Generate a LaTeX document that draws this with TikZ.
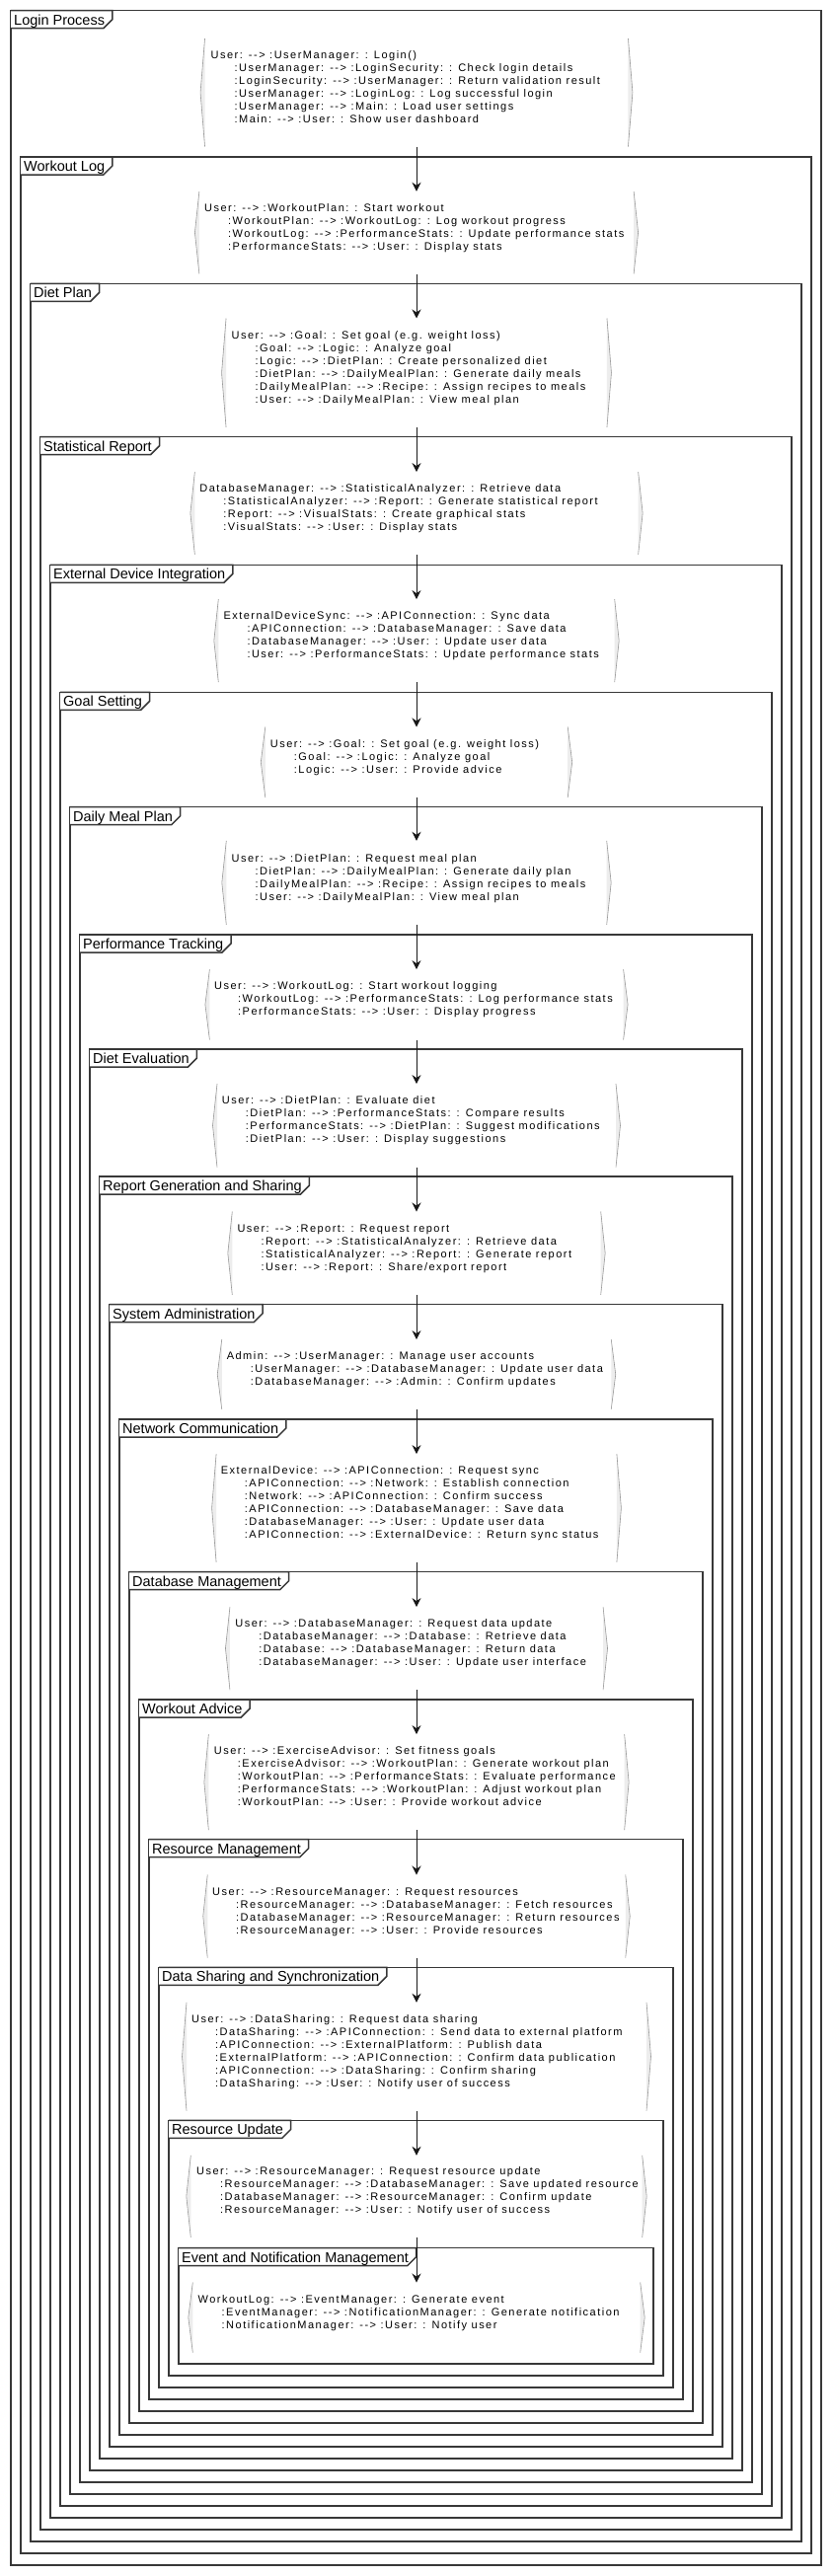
\documentclass[tikz,border=0pt]{standalone}
\usepackage{fontspec}
\setmainfont{Liberation Sans}
\newfontfamily\ttlfont[Ligatures=TeXOff]{Liberation Sans}
\newfontfamily\bodyfont[Ligatures=TeXOff,LetterSpace=13.5]{Liberation Sans}
\usetikzlibrary{arrows.meta,calc}
\definecolor{frmcol}{HTML}{383838}
\definecolor{brkcol}{HTML}{9A9A9A}
\definecolor{shdcol}{HTML}{EDEDED}
\definecolor{arrcol}{HTML}{181818}
\tikzset{
  frm/.style={draw=frmcol,line width=1.5pt},
  ttl/.style={inner sep=0pt,font={\fontsize{14.5}{17}\ttlfont},text=black},
  txt/.style={inner sep=0pt,align=left,font={\fontsize{11}{13}\bodyfont},text=black},
  blkbox/.style={inner sep=0pt,draw=none},
  brk/.style={draw=brkcol,line width=0.6pt},
  arr/.style={draw=arrcol,line width=1pt,-{Stealth[length=9pt,width=9pt,inset=3pt]}}
}
\newcommand\fst{\strut}
\newcommand\ind{\hspace*{24pt}\strut}
\newcommand\grp[3]{%
  \pgfmathsetmacro\gl{11+10*#1}%
  \pgfmathsetmacro\gr{832-10*#1}%
  \pgfmathsetmacro\gb{2599-12*#1}%
  \coordinate (fa#1) at (\gl,#2);
  \coordinate (fb#1) at (\gr,\gb);
  \draw[frm] (fa#1) rectangle (fb#1);
  \node[ttl,anchor=base west] (h#1) at (\gl+3,#2+14.3) {#3};
  \coordinate (tr#1) at ($(h#1.east |- fa#1)+(7.5,0)$);
  \draw[frm,fill=white] (fa#1) -- (tr#1) -- ($(tr#1)+(0,9)$) -- ($(tr#1)+(-9,18)$) -- ($(fa#1)+(0,18)$);
  \node[ttl,anchor=base west] at (h#1.base west) {#3};
}
\newcommand\blk[8]{%
  \pgfmathsetmacro\bw{#5-#4}%
  \pgfmathsetmacro\bh{#3-#2}%
  \pgfmathsetmacro\by{(#2+#3)/2}%
  \node[blkbox,minimum width=\bw pt,minimum height=\bh pt] (b#1) at (422,\by) {};
  \fill[shdcol] (b#1.north west) -- ($(b#1.west)+(-4.5,0)$) -- (b#1.south west) -- cycle;
  \fill[shdcol] (b#1.north east) -- ($(b#1.east)+(4.5,0)$) -- (b#1.south east) -- cycle;
  \draw[brk] (b#1.north west) -- ($(b#1.west)+(-4.5,0)$) -- (b#1.south west);
  \draw[brk] (b#1.north east) -- ($(b#1.east)+(4.5,0)$) -- (b#1.south east);
  \node[txt,anchor=west] (t#1) at (#6,#7+1) {#8};
}
\begin{document}
\begin{tikzpicture}[x=1pt,y=-1pt]
\path[use as bounding box,fill=white] (0,0) rectangle (844,2610);
\grp{0}{10.7}{Login Process}
\grp{1}{159}{Workout Log}
\grp{2}{287.3}{Diet Plan}
\grp{3}{442.7}{Statistical Report}
\grp{4}{572.3}{External Device Integration}
\grp{5}{701.3}{Goal Setting}
\grp{6}{817.7}{Daily Meal Plan}
\grp{7}{947}{Performance Tracking}
\grp{8}{1063}{Diet Evaluation}
\grp{9}{1192}{Report Generation and Sharing}
\grp{10}{1321.7}{System Administration}
\grp{11}{1438}{Network Communication}
\grp{12}{1592.7}{Database Management}
\grp{13}{1722}{Workout Advice}
\grp{14}{1863.7}{Resource Management}
\grp{15}{1993.3}{Data Sharing and Synchronization}
\grp{16}{2148.3}{Resource Update}
\grp{17}{2277.7}{Event and Notification Management}

\blk{0}{39.3}{148.3}{207.5}{636}{213.5}{88.2}{\fst User: --> :UserManager: : Login()\\
\ind :UserManager: --> :LoginSecurity: : Check login details\\
\ind :LoginSecurity: --> :UserManager: : Return validation result\\
\ind :UserManager: --> :LoginLog: : Log successful login\\
\ind :UserManager: --> :Main: : Load user settings\\
\ind :Main: --> :User: : Show user dashboard}
\blk{1}{194}{277.3}{201.6}{641.4}{207}{230.2}{\fst User: --> :WorkoutPlan: : Start workout\\
\ind :WorkoutPlan: --> :WorkoutLog: : Log workout progress\\
\ind :WorkoutLog: --> :PerformanceStats: : Update performance stats\\
\ind :PerformanceStats: --> :User: : Display stats}
\blk{2}{322.7}{432.7}{228.5}{614}{234.4}{372.3}{\fst User: --> :Goal: : Set goal (e.g. weight loss)\\
\ind :Goal: --> :Logic: : Analyze goal\\
\ind :Logic: --> :DietPlan: : Create personalized diet\\
\ind :DietPlan: --> :DailyMealPlan: : Generate daily meals\\
\ind :DailyMealPlan: --> :Recipe: : Assign recipes to meals\\
\ind :User: --> :DailyMealPlan: : View meal plan}
\blk{3}{478.3}{561.7}{196.8}{645.7}{202.2}{514.2}{\fst DatabaseManager: --> :StatisticalAnalyzer: : Retrieve data\\
\ind :StatisticalAnalyzer: --> :Report: : Generate statistical report\\
\ind :Report: --> :VisualStats: : Create graphical stats\\
\ind :VisualStats: --> :User: : Display stats}
\blk{4}{607.3}{691}{221}{622}{226.3}{643.5}{\fst ExternalDeviceSync: --> :APIConnection: : Sync data\\
\ind :APIConnection: --> :DatabaseManager: : Save data\\
\ind :DatabaseManager: --> :User: : Update user data\\
\ind :User: --> :PerformanceStats: : Update performance stats}
\blk{5}{736.7}{807.7}{268}{574}{273.7}{766.7}{\fst User: --> :Goal: : Set goal (e.g. weight loss)\\
\ind :Goal: --> :Logic: : Analyze goal\\
\ind :Logic: --> :User: : Provide advice}
\blk{6}{852}{936.7}{229}{614}{234.4}{889.5}{\fst User: --> :DietPlan: : Request meal plan\\
\ind :DietPlan: --> :DailyMealPlan: : Generate daily plan\\
\ind :DailyMealPlan: --> :Recipe: : Assign recipes to meals\\
\ind :User: --> :DailyMealPlan: : View meal plan}
\blk{7}{982.3}{1053.3}{211.8}{630.6}{217}{1012}{\fst User: --> :WorkoutLog: : Start workout logging\\
\ind :WorkoutLog: --> :PerformanceStats: : Log performance stats\\
\ind :PerformanceStats: --> :User: : Display progress}
\blk{8}{1098.3}{1182.3}{219.4}{623}{224.7}{1134.7}{\fst User: --> :DietPlan: : Evaluate diet\\
\ind :DietPlan: --> :PerformanceStats: : Compare results\\
\ind :PerformanceStats: --> :DietPlan: : Suggest modifications\\
\ind :DietPlan: --> :User: : Display suggestions}
\blk{9}{1227.7}{1311.7}{235}{608}{240.3}{1264.2}{\fst User: --> :Report: : Request report\\
\ind :Report: --> :StatisticalAnalyzer: : Retrieve data\\
\ind :StatisticalAnalyzer: --> :Report: : Generate report\\
\ind :User: --> :Report: : Share/export report}
\blk{10}{1357.3}{1427.7}{224.2}{618.3}{229.6}{1386.7}{\fst Admin: --> :UserManager: : Manage user accounts\\
\ind :UserManager: --> :DatabaseManager: : Update user data\\
\ind :DatabaseManager: --> :Admin: : Confirm updates}
\blk{11}{1473.3}{1582.7}{218.8}{624.2}{223.7}{1522.5}{\fst ExternalDevice: --> :APIConnection: : Request sync\\
\ind :APIConnection: --> :Network: : Establish connection\\
\ind :Network: --> :APIConnection: : Confirm success\\
\ind :APIConnection: --> :DatabaseManager: : Save data\\
\ind :DatabaseManager: --> :User: : Update user data\\
\ind :APIConnection: --> :ExternalDevice: : Return sync status}
\blk{12}{1628.3}{1712}{232.3}{610}{238.2}{1664.3}{\fst User: --> :DatabaseManager: : Request data update\\
\ind :DatabaseManager: --> :Database: : Retrieve data\\
\ind :Database: --> :DatabaseManager: : Return data\\
\ind :DatabaseManager: --> :User: : Update user interface}
\blk{13}{1757.3}{1854}{210.8}{631.7}{216.7}{1800.3}{\fst User: --> :ExerciseAdvisor: : Set fitness goals\\
\ind :ExerciseAdvisor: --> :WorkoutPlan: : Generate workout plan\\
\ind :WorkoutPlan: --> :PerformanceStats: : Evaluate performance\\
\ind :PerformanceStats: --> :WorkoutPlan: : Adjust workout plan\\
\ind :WorkoutPlan: --> :User: : Provide workout advice}
\blk{14}{1899.7}{1983.3}{209.7}{632.8}{215}{1936}{\fst User: --> :ResourceManager: : Request resources\\
\ind :ResourceManager: --> :DatabaseManager: : Fetch resources\\
\ind :DatabaseManager: --> :ResourceManager: : Return resources\\
\ind :ResourceManager: --> :User: : Provide resources}
\blk{15}{2029}{2138.3}{188.7}{654.3}{194}{2078}{\fst User: --> :DataSharing: : Request data sharing\\
\ind :DataSharing: --> :APIConnection: : Send data to external platform\\
\ind :APIConnection: --> :ExternalPlatform: : Publish data\\
\ind :ExternalPlatform: --> :APIConnection: : Confirm data publication\\
\ind :APIConnection: --> :DataSharing: : Confirm sharing\\
\ind :DataSharing: --> :User: : Notify user of success}
\blk{16}{2184}{2266.7}{193.5}{650.5}{199}{2219.8}{\fst User: --> :ResourceManager: : Request resource update\\
\ind :ResourceManager: --> :DatabaseManager: : Save updated resource\\
\ind :DatabaseManager: --> :ResourceManager: : Confirm update\\
\ind :ResourceManager: --> :User: : Notify user of success}
\blk{17}{2312.7}{2383.3}{195}{648}{200.5}{2343.2}{\fst WorkoutLog: --> :EventManager: : Generate event\\
\ind :EventManager: --> :NotificationManager: : Generate notification\\
\ind :NotificationManager: --> :User: : Notify user}

\foreach \i [evaluate=\i as \j using int(\i+1)] in {0,...,16} {
  \draw[arr] (b\i.south) -- (b\j.north);
}
\end{tikzpicture}
\end{document}
